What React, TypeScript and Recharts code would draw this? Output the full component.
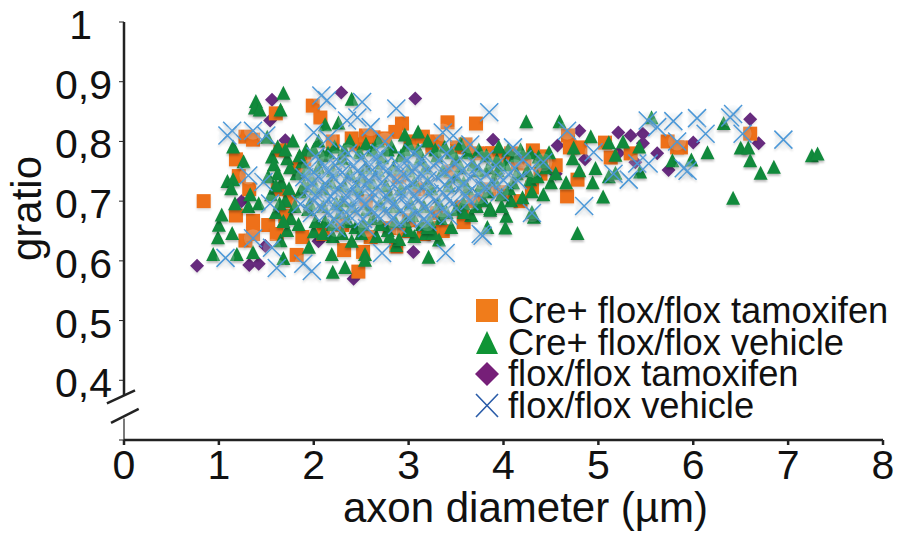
import { ScatterChart, Scatter, XAxis, YAxis, ReferenceLine, Label } from "recharts";

type Pt = [number, number];

const xTicks = [0, 1, 2, 3, 4, 5, 6, 7, 8];
const yTicks = [0.3, 0.4, 0.5, 0.6, 0.7, 0.8, 0.9, 1];
const legendLabels = ["Cre+ flox/flox tamoxifen", "Cre+ flox/flox vehicle", "flox/flox tamoxifen", "flox/flox vehicle"];

const creTamoxifen: Pt[] = [
  [0.84, 0.70], [1.28, 0.808], [1.36, 0.803], [1.6, 0.847], [1.99, 0.86], [2.07, 0.84], [2.93, 0.83], [3.41, 0.832],
  [3.71, 0.83], [2.86, 0.816], [1.18, 0.77], [1.21, 0.742], [1.32, 0.72], [1.18, 0.676], [1.36, 0.667], [1.52, 0.66],
  [1.61, 0.645], [1.28, 0.634], [1.36, 0.645], [1.88, 0.64], [1.82, 0.61], [2.32, 0.618], [2.52, 0.615], [2.47, 0.582],
  [2.87, 0.624], [3.16, 0.645], [3.36, 0.65], [3.58, 0.665], [3.51, 0.79], [3.72, 0.78], [3.88, 0.78], [1.65, 0.785],
  [2.63, 0.807], [2.75, 0.805], [4.68, 0.81], [4.7, 0.79], [4.81, 0.79], [5.07, 0.798], [5.13, 0.773], [5.34, 0.78],
  [5.73, 0.80], [5.83, 0.79], [5.87, 0.79], [6.6, 0.813], [4.78, 0.736], [4.67, 0.708], [4.31, 0.785], [3.97, 0.773],
  [3.86, 0.78], [4.39, 0.746], [4.3, 0.723], [4.15, 0.763], [4.18, 0.70], [4.0, 0.715], [2.2, 0.80], [2.45, 0.795],
  [3.02, 0.80], [3.25, 0.79], [1.9, 0.77], [2.3, 0.66], [2.8, 0.655], [3.0, 0.668], [3.3, 0.68], [3.7, 0.70],
  [1.75, 0.70], [1.85, 0.755], [2.9, 0.74], [3.45, 0.75], [3.1, 0.72], [2.55, 0.70], [4.4, 0.775], [4.55, 0.76],
  [2.4, 0.805], [2.55, 0.81], [3.15, 0.808], [3.3, 0.80], [3.6, 0.795], [4.08, 0.78], [4.22, 0.77], [3.56, 0.69],
  [3.85, 0.72], [2.1, 0.645], [2.6, 0.64], [2.95, 0.65], [3.25, 0.655], [1.7, 0.675], [1.62, 0.72],
];

const creVehicle: Pt[] = [
  [1.39, 0.866], [1.38, 0.855], [1.43, 0.852], [1.68, 0.88], [1.65, 0.852], [2.4, 0.87], [2.12, 0.827], [2.26, 0.83],
  [3.1, 0.815], [2.96, 0.81], [0.94, 0.61], [1.19, 0.61], [0.99, 0.638], [1.14, 0.645], [1.0, 0.659], [1.03, 0.676],
  [1.17, 0.695], [1.33, 0.71], [1.31, 0.69], [1.42, 0.695], [1.09, 0.732], [1.15, 0.735], [1.13, 0.72], [1.15, 0.79],
  [1.26, 0.765], [1.56, 0.773], [1.51, 0.806], [1.36, 0.613], [1.65, 0.633], [1.68, 0.603], [1.95, 0.622], [2.19, 0.61],
  [2.2, 0.58], [2.33, 0.588], [2.54, 0.61], [2.54, 0.60], [2.87, 0.625], [3.21, 0.605], [3.32, 0.634], [3.18, 0.645],
  [3.26, 0.645], [3.83, 0.655], [3.79, 0.70], [3.86, 0.687], [4.24, 0.832], [4.59, 0.832], [4.92, 0.807], [5.56, 0.839],
  [6.32, 0.829], [6.15, 0.78], [6.5, 0.788], [6.58, 0.788], [6.6, 0.767], [6.71, 0.746], [6.85, 0.756], [7.25, 0.775],
  [7.31, 0.778], [6.42, 0.704], [4.78, 0.645], [4.32, 0.672], [4.3, 0.68], [4.03, 0.674], [4.02, 0.654], [3.86, 0.684],
  [4.08, 0.70], [5.05, 0.706], [4.66, 0.73], [4.94, 0.73], [5.11, 0.74], [5.18, 0.746], [5.44, 0.748], [5.78, 0.767],
  [5.98, 0.768], [5.43, 0.79], [5.26, 0.798], [5.11, 0.797], [5.18, 0.776], [4.74, 0.788], [4.73, 0.77], [4.97, 0.754],
  [4.8, 0.75], [4.37, 0.773], [4.18, 0.785], [3.93, 0.768],
  [1.62, 0.79], [1.78, 0.80], [1.92, 0.785], [2.05, 0.80], [2.22, 0.79], [2.38, 0.80], [2.55, 0.795], [2.68, 0.80],
  [2.82, 0.79], [3.0, 0.795], [3.2, 0.80], [3.38, 0.79], [3.55, 0.795], [3.74, 0.785], [3.95, 0.79], [4.12, 0.775],
  [4.48, 0.78], [1.58, 0.76], [1.72, 0.77], [1.88, 0.765], [2.1, 0.775], [2.3, 0.77], [2.48, 0.78], [2.72, 0.772],
  [2.92, 0.775], [3.12, 0.77], [3.3, 0.775], [3.5, 0.77], [3.68, 0.76], [3.84, 0.755], [4.02, 0.76], [4.25, 0.75],
  [4.45, 0.755], [1.52, 0.74], [1.66, 0.73], [1.82, 0.745], [1.98, 0.735], [3.9, 0.735], [4.1, 0.73], [4.28, 0.735],
  [4.5, 0.73], [1.55, 0.71], [1.7, 0.70], [1.86, 0.715], [3.62, 0.72], [3.76, 0.725], [3.98, 0.71], [4.2, 0.705],
  [4.42, 0.71], [1.6, 0.68], [1.76, 0.67], [1.94, 0.685], [2.12, 0.665], [2.28, 0.68], [2.44, 0.655], [2.62, 0.67],
  [2.78, 0.65], [2.96, 0.665], [3.14, 0.66], [3.34, 0.67], [3.5, 0.685], [3.66, 0.675], [1.72, 0.65], [2.0, 0.648],
  [2.2, 0.64], [2.4, 0.632], [2.66, 0.64], [2.9, 0.635], [3.06, 0.64], [3.45, 0.655], [2.1, 0.72], [2.5, 0.74],
  [3.2, 0.73], [3.5, 0.74], [2.8, 0.71], [2.3, 0.70],
];

const creVehicleCore: Pt[] = [
  [1.7, 0.785], [1.85, 0.775], [2.0, 0.785], [2.15, 0.78], [2.32, 0.785], [2.62, 0.785], [2.78, 0.785], [2.96, 0.785],
  [3.1, 0.785], [3.28, 0.785], [3.45, 0.78], [3.62, 0.78], [3.82, 0.775], [4.05, 0.785], [4.28, 0.78], [4.4, 0.765],
  [4.55, 0.745], [1.62, 0.745], [1.75, 0.755], [1.92, 0.75], [2.05, 0.755], [2.2, 0.75], [2.38, 0.745], [2.55, 0.755],
  [2.68, 0.75], [2.84, 0.755], [3.0, 0.75], [3.18, 0.755], [3.36, 0.75], [3.55, 0.755], [3.74, 0.75], [3.94, 0.75],
  [4.14, 0.745], [4.36, 0.74], [1.6, 0.725], [1.74, 0.72], [1.9, 0.725], [2.02, 0.72], [2.18, 0.73], [2.32, 0.725],
  [2.46, 0.72], [2.62, 0.73], [2.76, 0.725], [2.92, 0.72], [3.06, 0.73], [3.24, 0.72], [3.42, 0.725], [3.58, 0.73],
  [3.84, 0.715], [4.06, 0.72], [4.3, 0.715], [1.64, 0.695], [1.8, 0.69], [1.96, 0.695], [2.1, 0.69], [2.24, 0.695],
  [2.4, 0.69], [2.56, 0.685], [2.7, 0.695], [2.86, 0.69], [3.02, 0.695], [3.16, 0.69], [3.32, 0.695], [3.58, 0.695],
  [3.72, 0.69], [3.98, 0.69], [1.68, 0.665], [1.84, 0.66], [2.02, 0.665], [2.2, 0.66], [2.36, 0.665], [2.52, 0.66],
  [2.7, 0.66], [2.86, 0.665], [3.04, 0.675], [3.22, 0.665], [3.4, 0.68], [3.58, 0.68], [2.1, 0.645], [2.3, 0.645],
  [2.5, 0.645], [2.8, 0.64], [3.0, 0.65], [3.2, 0.655],
];

const floxTamoxifen: Pt[] = [
  [0.77, 0.592], [1.56, 0.87], [1.54, 0.835], [2.29, 0.882], [3.07, 0.872], [3.05, 0.615], [2.42, 0.57], [1.32, 0.593],
  [1.42, 0.595], [1.49, 0.625], [1.7, 0.802], [3.89, 0.803], [2.05, 0.633], [1.24, 0.70], [4.8, 0.818], [5.21, 0.815],
  [5.34, 0.81], [5.47, 0.813], [6.0, 0.798], [5.62, 0.78], [5.74, 0.752], [6.6, 0.837], [6.69, 0.797], [4.57, 0.793],
  [4.55, 0.746], [4.86, 0.77], [5.21, 0.78], [5.39, 0.765], [5.47, 0.797], [4.04, 0.782],
];

const floxVehicle: Pt[] = [
  [1.14, 0.818], [1.09, 0.81], [1.07, 0.605], [1.61, 0.588], [1.89, 0.595], [1.98, 0.583], [2.08, 0.877], [2.14, 0.869],
  [2.51, 0.866], [2.46, 0.84], [2.87, 0.855], [3.85, 0.849], [3.39, 0.613], [2.72, 0.613], [3.76, 0.645], [3.36, 0.815],
  [3.47, 0.81], [1.36, 0.818], [1.5, 0.81], [1.47, 0.732], [1.31, 0.743], [1.54, 0.696], [1.36, 0.638], [1.56, 0.622],
  [2.0, 0.815], [2.35, 0.835], [2.6, 0.824], [5.79, 0.834], [6.04, 0.839], [6.13, 0.813], [6.42, 0.846], [6.39, 0.84],
  [6.52, 0.813], [6.95, 0.803], [4.85, 0.692], [5.32, 0.736], [5.94, 0.751], [5.9, 0.755], [5.52, 0.835], [5.62, 0.824],
  [4.95, 0.782], [5.41, 0.763], [5.53, 0.763], [4.3, 0.68], [3.78, 0.642], [5.16, 0.746], [4.67, 0.818], [5.83, 0.80],
  [2.02, 0.775], [2.36, 0.78], [2.7, 0.78], [3.05, 0.78], [3.4, 0.78], [3.8, 0.77], [4.2, 0.77], [4.42, 0.765],
  [1.96, 0.755], [2.12, 0.76], [2.26, 0.755], [2.42, 0.76], [2.58, 0.765], [2.74, 0.76],
  [2.9, 0.76], [3.08, 0.755], [3.26, 0.76], [3.44, 0.755], [3.62, 0.76], [3.82, 0.745], [4.05, 0.745], [4.3, 0.755],
  [1.9, 0.74], [2.04, 0.735], [2.2, 0.74], [2.34, 0.735], [2.5, 0.745], [2.64, 0.74],
  [2.8, 0.745], [2.96, 0.74], [3.12, 0.745], [3.3, 0.74], [3.48, 0.735], [3.66, 0.74], [3.9, 0.73], [4.15, 0.735],
  [1.94, 0.72], [2.08, 0.715], [2.24, 0.72], [2.4, 0.715], [2.54, 0.725], [2.7, 0.72],
  [2.86, 0.725], [3.02, 0.72], [3.18, 0.725], [3.36, 0.715], [3.54, 0.72], [3.74, 0.71], [3.96, 0.715],
  [1.86, 0.695], [2.0, 0.70], [2.16, 0.695], [2.32, 0.70], [2.46, 0.695], [2.62, 0.705], [2.78, 0.70],
  [2.94, 0.705], [3.1, 0.70], [3.28, 0.70], [3.46, 0.695], [3.64, 0.70], [1.98, 0.68], [2.14, 0.68],
  [2.3, 0.675], [2.46, 0.68], [2.6, 0.685], [2.76, 0.68], [2.92, 0.685], [3.08, 0.68], [3.24, 0.68], [3.42, 0.675],
  [2.24, 0.655], [2.56, 0.655], [2.88, 0.66], [3.2, 0.665], [2.15, 0.805], [2.75, 0.80], [3.65, 0.795], [4.1, 0.79],
];

const floxVehicleCore: Pt[] = [
  [2.24, 0.77], [2.5, 0.772], [2.66, 0.77], [2.98, 0.768], [3.14, 0.77], [3.32, 0.768], [3.5, 0.765], [3.72, 0.758],
  [3.92, 0.76], [4.12, 0.755], [2.0, 0.748], [2.16, 0.75], [2.3, 0.748], [2.46, 0.75], [2.62, 0.752], [2.76, 0.75],
  [2.92, 0.75], [3.04, 0.75], [3.2, 0.75], [3.38, 0.748], [3.56, 0.75], [3.76, 0.735], [4.0, 0.735], [1.98, 0.73],
  [2.12, 0.73], [2.28, 0.728], [2.44, 0.73], [2.58, 0.735], [2.72, 0.732], [2.88, 0.735], [3.04, 0.73], [3.2, 0.735],
  [3.38, 0.728], [3.58, 0.73], [3.8, 0.722], [2.02, 0.71], [2.18, 0.708], [2.34, 0.71], [2.48, 0.708], [2.62, 0.715],
  [2.76, 0.71], [2.92, 0.715], [3.06, 0.71], [3.22, 0.712], [3.4, 0.708], [3.6, 0.71], [2.08, 0.69], [2.24, 0.688],
  [2.4, 0.69], [2.54, 0.695], [2.7, 0.69], [2.84, 0.695], [3.0, 0.69], [3.18, 0.69], [3.36, 0.688], [2.22, 0.67],
  [2.38, 0.675], [2.52, 0.67], [2.68, 0.675], [2.84, 0.672], [3.0, 0.672], [3.16, 0.67],
];

const toRows = (pts: Pt[]) => pts.map(([x, y]) => ({ x, y }));

const soft = (shadow: string) => ({ filter: `blur(0.5px) drop-shadow(0 2px 1px ${shadow})` });

const Square = ({ cx, cy }: any) => <rect x={cx - 7} y={cy - 7} width={14} height={14} fill="#ee7019" style={soft("rgba(0,0,0,.12)")} />;
const Triangle = ({ cx, cy }: any) => (
  <path d={`M${cx} ${cy - 8}L${cx + 7} ${cy + 6}L${cx - 7} ${cy + 6}Z`} fill="#118a3c" style={soft("rgba(0,0,0,.28)")} />
);
const Diamond = ({ cx, cy }: any) => (
  <path d={`M${cx} ${cy - 7}L${cx + 7} ${cy}L${cx} ${cy + 7}L${cx - 7} ${cy}Z`} fill="#672b7e" style={soft("rgba(0,0,0,.1)")} />
);
const Cross = ({ cx, cy }: any) => (
  <g style={soft("rgba(0,0,0,.16)")}>
    <circle cx={cx} cy={cy} r={9} fill="rgba(225,235,245,.22)" />
    <path
      d={`M${cx - 9} ${cy - 9}L${cx + 9} ${cy + 9}M${cx + 9} ${cy - 9}L${cx - 9} ${cy + 9}`}
      stroke="#4b98d8"
      strokeWidth={1.5}
      fill="none"
    />
  </g>
);

const legendIcons = [
  <rect x={1} y={1} width={22} height={23} fill="#f07c1b" />,
  <path d="M12 1L23 24L1 24Z" fill="#0f9435" />,
  <path d="M12 0L24 12L12 24L0 12Z" fill="#761f78" />,
  <path d="M1 1L23 24M23 1L1 24" stroke="#2a5ca8" strokeWidth={1.6} fill="none" />,
];

const fontFamily = "'Liberation Sans', Arial, sans-serif";

const ChartLegend = () => (
  <div style={{ position: "absolute", left: 475, top: 295, width: 422 }}>
    {legendLabels.map((label, i) => (
      <div key={label} style={{ display: "flex", alignItems: "center", height: 31.7, whiteSpace: "nowrap" }}>
        <svg width={24} height={25} style={{ marginRight: 9, flex: "none", overflow: "visible" }}>
          {legendIcons[i]}
        </svg>
        <span style={{ fontFamily, fontSize: 36.3, lineHeight: "31.7px", color: "#111" }}>{label}</span>
      </div>
    ))}
  </div>
);

const formatY = (v: number) => (v === 0.3 ? "" : v === 1 ? "1" : v.toFixed(1).replace(".", ","));

// the top "1" sits left of the other labels in the original
const YTick = ({ x, y, payload }: any) => (
  <text x={payload.value === 1 ? x - 20 : x} y={y + 17} textAnchor="end" fill="#111" fontSize={41} fontFamily={fontFamily}>
    {formatY(payload.value)}
  </text>
);

const tickStyle = { fill: "#111", fontSize: 41, fontFamily };
const labelStyle = { fill: "#111", fontSize: 42, fontFamily };
const axisInk = "#222";

export default function App() {
  return (
    <div style={{ position: "absolute", left: 0, top: 0, width: 897, height: 533, background: "#fff" }}>
      <ScatterChart width={897} height={533} margin={{ top: 22, right: 14, bottom: 33, left: 24 }}>
        <XAxis
          type="number"
          dataKey="x"
          domain={[0, 8]}
          ticks={xTicks}
          tick={tickStyle}
          tickSize={5}
          tickMargin={5}
          height={60}
          stroke={axisInk}
          strokeWidth={2.5}
          interval={0}
        >
          <Label value="axon diameter (µm)" position="insideBottom" offset={-22} dx={22} style={labelStyle} />
        </XAxis>
        <YAxis
          type="number"
          dataKey="y"
          domain={[0.3, 1]}
          ticks={yTicks}
          tick={<YTick />}
          tickSize={5}
          tickMargin={7}
          width={100}
          axisLine={false}
          stroke={axisInk}
          interval={0}
        >
          <Label value="gratio" angle={-90} position="insideLeft" offset={2} dy={30} style={labelStyle} />
        </YAxis>
        <ReferenceLine segment={[{ x: 0, y: 1 }, { x: 0, y: 0.374 }]} stroke={axisInk} strokeWidth={2.5} ifOverflow="visible" />
        <ReferenceLine segment={[{ x: 0, y: 0.336 }, { x: 0, y: 0.3 }]} stroke={axisInk} strokeWidth={1.2} ifOverflow="visible" />
        <ReferenceLine segment={[{ x: -0.18, y: 0.3613 }, { x: 0.116, y: 0.383 }]} stroke={axisInk} strokeWidth={2.5} ifOverflow="visible" />
        <ReferenceLine segment={[{ x: -0.137, y: 0.3286 }, { x: 0.155, y: 0.352 }]} stroke={axisInk} strokeWidth={2.5} ifOverflow="visible" />
        <Scatter name={legendLabels[2]} data={toRows(floxTamoxifen)} shape={<Diamond />} isAnimationActive={false} />
        <Scatter name={legendLabels[0]} data={toRows(creTamoxifen)} shape={<Square />} isAnimationActive={false} />
        <Scatter name={legendLabels[1]} data={toRows([...creVehicle, ...creVehicleCore])} shape={<Triangle />} isAnimationActive={false} />
        <Scatter name={legendLabels[3]} data={toRows([...floxVehicle, ...floxVehicleCore])} shape={<Cross />} isAnimationActive={false} />
      </ScatterChart>
      <ChartLegend />
    </div>
  );
}
